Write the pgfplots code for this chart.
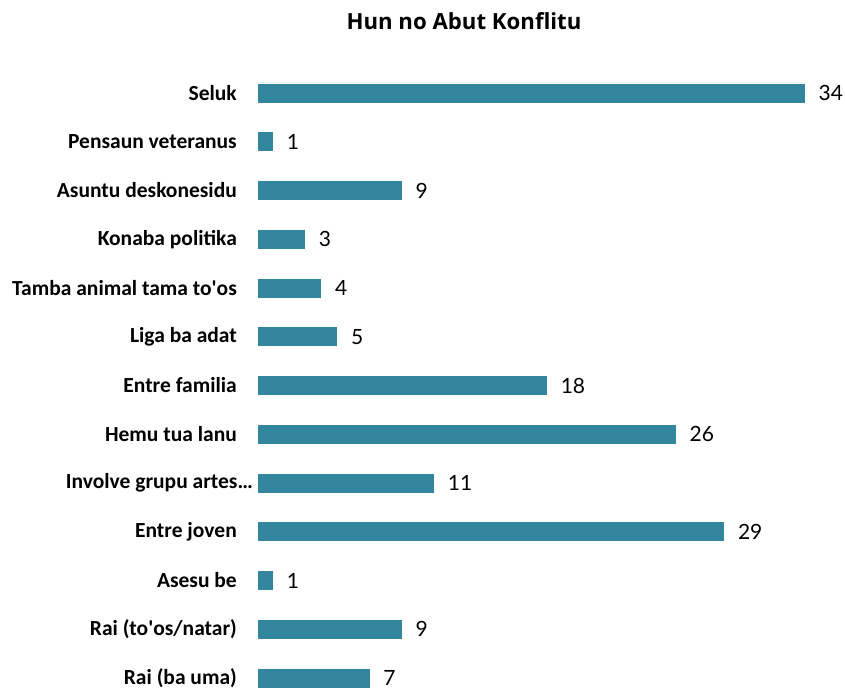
\documentclass[border=0pt]{standalone}
\usepackage{pgfplots}
\pgfplotsset{compat=1.18}
\usepackage{fontspec}
\setmainfont{Carlito}
\newfontfamily\titlefont{Open Sans}
\newfontfamily\valfont{Lato}
\definecolor{barc}{HTML}{31859C}
\begin{document}
\begin{tikzpicture}[x=1pt,y=1pt]
\path[use as bounding box] (0,0) rectangle (845,688);
\node[font=\titlefont\bfseries\fontsize{22.2}{26}\selectfont, anchor=center] at (464,667) {Hun no Abut Konflitu};
\begin{axis}[
  at={(257pt,-14.375pt)}, anchor=south west,
  scale only axis, width=548pt, height=633.75pt,
  xbar, bar width=20pt,
  xmin=0, xmax=34,
  ymin=-0.5, ymax=12.5, y dir=reverse,
  axis lines*=left,
  hide x axis,
  y axis line style={draw=none},
  ytick={0,...,12},
  yticklabels={Seluk,Pensaun veteranus,Asuntu deskonesidu,Konaba politika,Tamba animal tama to\textquotesingle os,Liga ba adat,Entre familia,Hemu tua lanu,\mbox{Involve grupu artes\ldots}\hspace{-16pt}\mbox{},Entre joven,Asesu be,Rai (to\textquotesingle os/natar),Rai (ba uma)},
  major tick length=0pt,
  yticklabel style={font=\bfseries\fontsize{21.5}{24}\selectfont, anchor=east, inner sep=0pt, xshift=-20pt},
  /pgf/number format/assume math mode=true,
  nodes near coords,
  nodes near coords style={font=\valfont\fontsize{21}{24}\selectfont, anchor=west, xshift=10pt, text=black},
  clip=false,
]
\addplot[fill=barc, draw=white, line width=0.6pt] coordinates {
(34,0) (1,1) (9,2) (3,3) (4,4) (5,5) (18,6) (26,7) (11,8) (29,9) (1,10) (9,11) (7,12)
};
\end{axis}
\end{tikzpicture}
\end{document}
